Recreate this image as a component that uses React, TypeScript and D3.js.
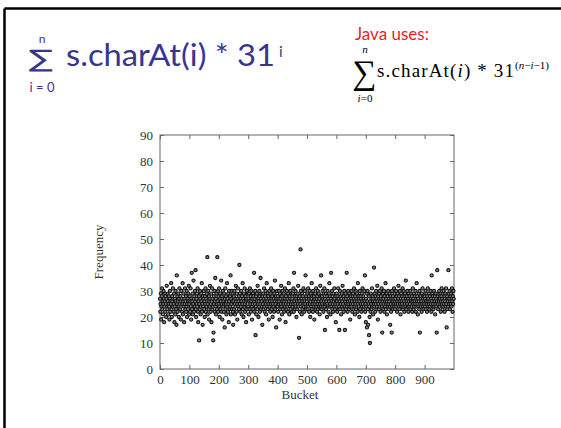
import React, { useRef, useEffect } from "react";
import * as d3 from "d3";

// tick labels
const xTicks = [0, 100, 200, 300, 400, 500, 600, 700, 800, 900];
const yTicks = [0, 10, 20, 30, 40, 50, 60, 70, 80, 90];

// words per hash bucket (bucket index = position in array)
const frequency = [
  27, 22, 25, 29, 19, 24, 28, 31, 23, 26, 21, 25, 30, 27, 18, 24, 26, 29, 22, 28, 25, 20, 27, 32, 24, 23, 29, 26, 21, 25, 28, 24, 19, 27, 30, 22, 26, 25, 33, 23, 20, 28, 26, 24, 31, 27, 22, 25, 29, 18,
  24, 27, 21, 30, 26, 23, 17, 36, 25, 28, 22, 26, 29, 24, 20, 27, 31, 25, 23, 28, 26, 19, 24, 30, 27, 22, 25, 33, 21, 26, 29, 24, 18, 27, 25, 31, 23, 26, 28, 22, 24, 30, 20, 25, 27, 23, 29, 26, 32, 21,
  25, 28, 22, 26, 31, 24, 19, 27, 37, 23, 26, 29, 21, 25, 34, 27, 22, 28, 24, 30, 26, 38, 23, 20, 27, 25, 29, 24, 31, 22, 18, 26, 28, 11, 25, 23, 30, 27, 21, 24, 29, 26, 33, 22, 25, 17, 28, 24, 27, 30,
  23, 26, 20, 28, 25, 31, 22, 27, 24, 29, 26, 43, 21, 25, 30, 23, 28, 19, 26, 24, 32, 27, 22, 25, 29, 18, 26, 31, 23, 27, 24, 11, 14, 28, 25, 30, 22, 26, 35, 24, 27, 21, 29, 25, 23, 43, 26, 30, 22, 28,
  25, 31, 24, 20, 27, 29, 23, 26, 34, 22, 28, 25, 19, 27, 30, 24, 26, 22, 29, 25, 16, 27, 31, 23, 25, 28, 21, 26, 33, 24, 27, 22, 29, 25, 18, 30, 26, 23, 28, 24, 36, 21, 27, 25, 30, 23, 26, 29, 22, 17,
  26, 28, 23, 30, 25, 21, 27, 24, 32, 26, 22, 29, 25, 19, 27, 31, 24, 26, 28, 23, 40, 25, 29, 22, 27, 24, 30, 26, 21, 28, 25, 33, 23, 27, 20, 26, 29, 24, 31, 25, 22, 28, 26, 18, 27, 24, 30, 23, 26, 29,
  24, 27, 21, 29, 26, 23, 31, 25, 28, 22, 26, 30, 24, 19, 27, 25, 29, 23, 28, 26, 37, 22, 27, 25, 30, 13, 24, 28, 21, 26, 29, 23, 32, 25, 27, 20, 26, 24, 30, 28, 22, 25, 35, 27, 23, 29, 26, 24, 17, 28,
  25, 29, 23, 27, 31, 24, 22, 28, 26, 30, 25, 21, 27, 33, 24, 26, 29, 23, 28, 25, 19, 27, 30, 24, 26, 22, 29, 25, 31, 27, 23, 26, 28, 20, 25, 30, 24, 27, 22, 29, 26, 34, 23, 25, 28, 16, 27, 24, 30, 26,
  24, 28, 22, 27, 25, 30, 26, 19, 29, 23, 27, 25, 32, 24, 28, 21, 26, 30, 23, 27, 25, 29, 22, 26, 24, 31, 27, 18, 25, 28, 23, 26, 30, 24, 27, 22, 29, 25, 33, 26, 21, 28, 24, 27, 30, 23, 25, 29, 26, 22,
  27, 24, 29, 25, 31, 22, 37, 26, 28, 23, 25, 30, 24, 27, 20, 28, 26, 23, 29, 25, 32, 24, 27, 12, 26, 28, 22, 25, 46, 30, 24, 27, 21, 29, 26, 23, 28, 25, 31, 24, 27, 22, 26, 30, 25, 36, 23, 28, 24, 27,
  26, 29, 23, 25, 31, 24, 28, 22, 27, 30, 25, 20, 26, 29, 24, 27, 33, 23, 28, 25, 22, 30, 26, 24, 28, 19, 27, 25, 29, 23, 26, 31, 24, 27, 22, 28, 25, 30, 23, 26, 29, 24, 27, 21, 25, 32, 28, 24, 36, 26,
  23, 28, 25, 30, 24, 27, 22, 29, 26, 31, 24, 15, 27, 25, 29, 23, 26, 28, 20, 25, 30, 24, 27, 22, 29, 26, 33, 24, 28, 25, 21, 27, 37, 24, 26, 30, 23, 28, 25, 22, 29, 26, 24, 31, 27, 23, 25, 28, 18, 26,
  24, 29, 26, 22, 28, 25, 31, 23, 27, 24, 15, 26, 30, 23, 28, 25, 21, 27, 29, 24, 26, 32, 23, 25, 28, 22, 27, 30, 24, 15, 26, 29, 23, 27, 25, 37, 24, 28, 22, 26, 30, 25, 27, 23, 29, 24, 26, 19, 28, 25,
  27, 24, 30, 26, 22, 28, 25, 29, 23, 27, 31, 24, 26, 21, 28, 25, 30, 23, 27, 24, 29, 26, 22, 33, 25, 28, 24, 27, 20, 26, 30, 23, 28, 25, 27, 22, 29, 24, 26, 31, 25, 28, 23, 27, 24, 30, 26, 36, 22, 25,
  18, 27, 24, 29, 16, 26, 30, 23, 17, 25, 28, 13, 24, 20, 10, 26, 22, 29, 25, 27, 23, 31, 24, 28, 26, 21, 27, 25, 39, 24, 29, 26, 22, 28, 25, 30, 23, 27, 24, 32, 26, 19, 28, 25, 23, 29, 27, 24, 30, 26,
  22, 28, 25, 27, 31, 24, 14, 26, 29, 23, 27, 25, 30, 22, 28, 24, 26, 33, 23, 27, 25, 29, 21, 26, 28, 24, 30, 25, 27, 23, 26, 29, 24, 17, 28, 25, 22, 27, 14, 30, 24, 26, 28, 23, 27, 25, 31, 24, 29, 26,
  23, 27, 25, 30, 24, 28, 22, 26, 29, 25, 27, 32, 24, 28, 23, 26, 30, 25, 21, 27, 29, 24, 26, 28, 25, 31, 23, 27, 24, 30, 26, 22, 28, 25, 29, 24, 34, 27, 23, 26, 28, 25, 30, 24, 27, 22, 29, 26, 24, 28,
  25, 30, 23, 27, 26, 29, 24, 28, 22, 26, 31, 25, 27, 23, 29, 24, 26, 28, 25, 30, 22, 27, 24, 33, 26, 28, 25, 21, 27, 24, 29, 26, 23, 30, 14, 25, 28, 24, 27, 26, 22, 29, 25, 31, 24, 27, 23, 28, 26, 25,
  28, 24, 27, 30, 23, 26, 29, 25, 22, 28, 26, 31, 24, 27, 25, 29, 23, 26, 28, 24, 30, 25, 27, 22, 36, 26, 29, 24, 28, 25, 23, 27, 30, 24, 26, 28, 21, 25, 29, 27, 24, 14, 26, 38, 28, 25, 23, 29, 27, 26,
  30, 24, 27, 25, 29, 22, 26, 28, 31, 25, 27, 23, 29, 26, 24, 30, 25, 28, 22, 27, 26, 29, 24, 31, 25, 16, 28, 23, 27, 26, 24, 38, 29, 25, 27, 30, 23, 26, 28, 25, 29, 24, 27, 31, 26, 22, 28, 25, 30, 27,
];

const navy = "#38358f";
const serif = "'Liberation Serif', 'Times New Roman', serif";
const sans = "Lato, 'Open Sans', sans-serif";

export default function App() {
  const plotRef = useRef<SVGGElement>(null);

  useEffect(() => {
    if (!plotRef.current) return;
    const margin = { top: 135, right: 107, bottom: 59, left: 160 };
    const width = 561;
    const height = 428;

    const x = d3.scaleLinear().domain([0, 1000]).range([margin.left, width - margin.right]);
    const y = d3.scaleLinear().domain([0, 90]).range([height - margin.bottom, margin.top]);

    const g = d3.select(plotRef.current);
    g.selectAll("*").remove();

    const styleAxis = (sel: any) => {
      sel.select(".domain").remove();
      sel.selectAll(".tick line").attr("stroke", "#666");
      sel.selectAll(".tick text").attr("fill", "#333").attr("font-family", serif).attr("font-size", 13);
    };

    g.append("g")
      .attr("transform", `translate(0,${y(0)})`)
      .call(d3.axisBottom(x).tickValues(xTicks).tickSizeInner(-4).tickSizeOuter(0).tickPadding(6))
      .call(styleAxis);
    g.append("g")
      .attr("transform", `translate(0,${y(90)})`)
      .call(d3.axisTop(x).tickValues(xTicks).tickSizeInner(-4).tickSizeOuter(0).tickFormat(() => ""))
      .call(styleAxis);
    g.append("g")
      .attr("transform", `translate(${x(0)},0)`)
      .call(d3.axisLeft(y).tickValues(yTicks).tickSizeInner(-4).tickSizeOuter(0).tickPadding(7))
      .call(styleAxis);
    g.append("g")
      .attr("transform", `translate(${x(1000)},0)`)
      .call(d3.axisRight(y).tickValues(yTicks).tickSizeInner(-4).tickSizeOuter(0).tickFormat(() => ""))
      .call(styleAxis);

    g.append("rect")
      .attr("x", x(0))
      .attr("y", y(90))
      .attr("width", x(1000) - x(0))
      .attr("height", y(0) - y(90))
      .attr("fill", "none")
      .attr("stroke", "#666")
      .attr("stroke-width", 1);

    g.append("g")
      .selectAll("circle")
      .data(frequency)
      .join("circle")
      .attr("cx", (d, i) => x(i))
      .attr("cy", d => y(d))
      .attr("r", 1.6)
      .attr("fill", "#888")
      .attr("stroke", "#111")
      .attr("stroke-width", 1.1);

    g.append("text")
      .attr("x", (x(0) + x(1000)) / 2 - 7)
      .attr("y", y(0) + 30)
      .attr("text-anchor", "middle")
      .attr("font-family", serif)
      .attr("font-size", 13)
      .attr("fill", "#333")
      .text("Bucket");

    g.append("text")
      .attr("transform", `translate(103,${(y(0) + y(90)) / 2}) rotate(-90)`)
      .attr("text-anchor", "middle")
      .attr("font-family", serif)
      .attr("font-size", 13)
      .attr("fill", "#333")
      .text("Frequency");
  }, []);

  return (
    <svg width={561} height={428} style={{ position: "absolute", left: 0, top: 0, background: "#fff" }}>
      <rect x={0} y={0} width={561} height={428} fill="#fff" />
      {/* slide frame, only top and left edges fall inside the crop */}
      <line x1={4.5} y1={8.5} x2={561} y2={8.5} stroke="#000" strokeWidth={2.5} />
      <line x1={4.5} y1={8.5} x2={4.5} y2={428} stroke="#000" strokeWidth={2.5} />

      {/* left formula */}
      <g fill={navy} fontFamily={sans}>
        <text transform="translate(41,67) scale(1.5,1)" fontSize={24} fontFamily="'DejaVu Sans', sans-serif" textAnchor="middle">∑</text>
        <text x={42} y={43} fontSize={12} textAnchor="middle">n</text>
        <text x={42} y={92} fontSize={13} textAnchor="middle">i = 0</text>
        <text x={66} y={66} fontSize={31} textLength={209} lengthAdjust="spacingAndGlyphs">s.charAt(i) * 31</text>
        <text x={279} y={57} fontSize={15}>i</text>
      </g>

      {/* right formula */}
      <text x={355} y={40} fontSize={17} fill="#ee1c24" fontFamily={sans}>Java uses:</text>
      <g fill="#000" fontFamily={serif}>
        <text x={364} y={84} fontSize={34} textAnchor="middle">∑</text>
        <text x={365} y={53} fontSize={11} fontStyle="italic" textAnchor="middle">n</text>
        <text x={365} y={102} fontSize={11} textAnchor="middle"><tspan fontStyle="italic">i</tspan>=0</text>
        <text x={377} y={77} fontSize={19} textLength={137} lengthAdjust="spacing">
          s.charAt(<tspan fontStyle="italic">i</tspan>) * 31
        </text>
        <text x={515} y={69} fontSize={11}>
          (<tspan fontStyle="italic">n</tspan>−<tspan fontStyle="italic">i</tspan>−1)
        </text>
      </g>

      <g ref={plotRef} />
    </svg>
  );
}
